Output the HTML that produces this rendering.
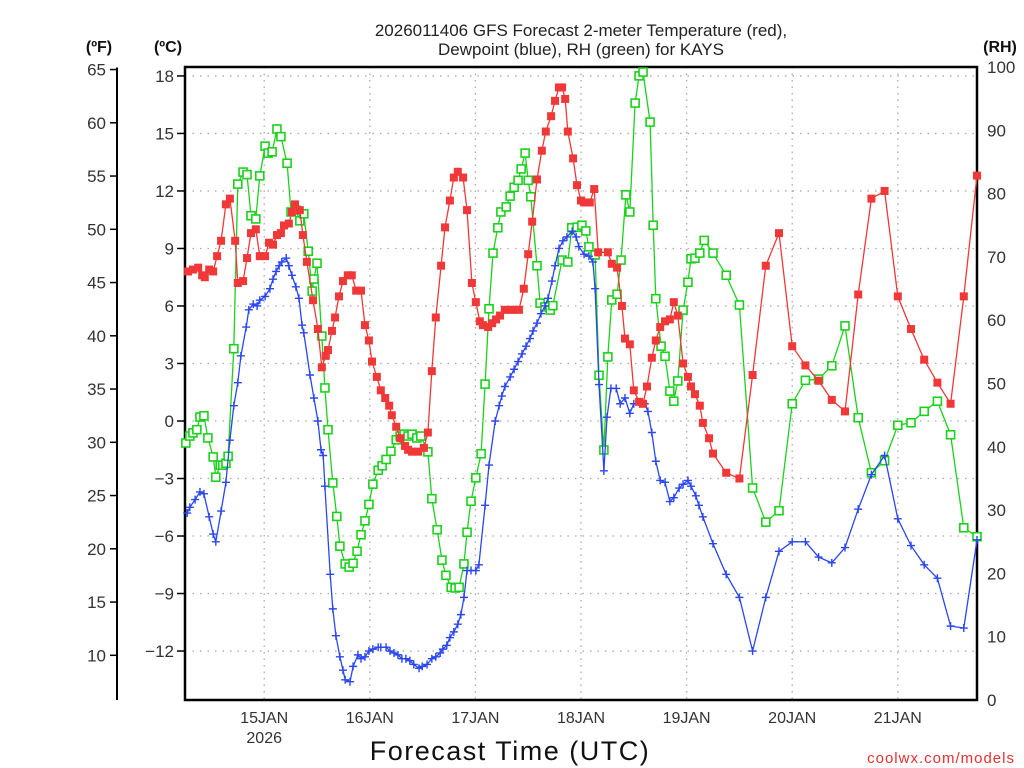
<!DOCTYPE html>
<html><head><meta charset="utf-8">
<style>
html,body{margin:0;padding:0;background:#fff;}
svg{display:block;font-family:"Liberation Sans",sans-serif;}
</style></head>
<body>
<svg id="chart" width="1024" height="768" viewBox="0 0 1024 768">
  <text x="581" y="36" text-anchor="middle" font-size="17" fill="#222">2026011406 GFS Forecast 2-meter Temperature (red),</text>
  <text x="581" y="55" text-anchor="middle" font-size="17" fill="#222">Dewpoint (blue), RH (green) for KAYS</text>
  <text x="99" y="52" text-anchor="middle" font-size="16" font-weight="bold" fill="#111">(ºF)</text>
  <text x="168" y="52" text-anchor="middle" font-size="16" font-weight="bold" fill="#111">(ºC)</text>
  <text x="1000" y="52" text-anchor="middle" font-size="16" font-weight="bold" fill="#111">(RH)</text>
  <text x="510" y="760" text-anchor="middle" font-size="27" fill="#111" letter-spacing="1.5">Forecast Time (UTC)</text>
  <text x="1015" y="763" text-anchor="end" font-size="15" fill="#e83030" letter-spacing="1">coolwx.com/models</text>
  <g id="grid"></g><g id="axes"></g><g id="series"></g>
</svg>
<script>
// ---- data ----
const tHours=[0.7,1.8,3.0,3.9,4.5,5.5,6.4,7.3,8.2,9.3,10.2,11.4,12.0,13.2,14.1,15.0,16.1,17.0,18.2,19.1,20.0,20.9,21.8,22.5,23.6,24.3,25.0,26.1,26.8,27.7,29.1,30.2,31.1,32.0,32.5,33.4,34.1,35.0,35.9,37.0,37.9,38.9,40.0,40.9,41.8,42.5,43.6,44.5,45.5,46.4,47.0,48.0,48.9,50.0,50.7,51.6,53.0,54.3,55.2,56.1,57.0,58.2,59.1,60.2,61.1,62.0,63.2,64.1,65.2,66.1,67.0,67.7,68.9,69.8,70.7,71.6,72.7,73.9,74.8,75.9,77.0,78.0,78.9,80.0,81.1,82.0,83.2,84.1,85.0,85.7,86.4,87.0,88.2,89.1,90.0,90.7,92.0,93.0,93.9,96.1,97.0,98.2,99.3,100.0,101.1,102.0,103.2,104.1,105.0,106.1,107.0,108.0,109.1,110.2,111.1,112.0,113.2,114.3,115.0,115.9,117.0,117.7,119.1,120,123,126,129,132,135,138,141,144,147,150,153,156,159,162,165,168,171,174,177,180];
const tempC=[7.8,7.9,8.0,7.6,7.5,7.9,7.8,8.6,9.4,11.3,11.6,9.4,7.2,7.3,8.5,9.8,10.0,8.6,8.6,9.3,9.2,9.7,9.8,10.2,10.3,10.9,11.3,11.0,9.7,8.3,6.3,4.8,2.8,3.4,3.7,4.7,5.4,6.5,7.3,7.6,7.6,6.8,6.8,5.0,4.2,3.1,2.3,1.6,1.2,0.8,0.3,-0.3,-0.9,-1.3,-1.5,-1.6,-1.6,-1.4,-0.6,2.6,5.4,8.1,10.1,11.5,12.7,13.0,12.7,11.0,7.2,6.2,5.2,5.0,4.9,5.1,5.3,5.5,5.8,5.8,5.8,5.8,6.9,8.7,10.4,12.6,14.1,15.1,15.9,16.7,17.4,17.4,16.8,15.1,13.7,12.3,11.5,11.4,11.4,12.1,8.8,8.8,8.2,8.0,6.0,4.3,4.0,1.6,1.0,0.9,1.8,3.3,4.2,4.9,5.2,5.3,6.2,5.5,3.0,2.3,1.8,1.4,0.8,-0.1,-0.9,-1.7,-2.7,-3.0,2.4,8.1,9.8,3.9,2.9,2.1,1.1,0.5,6.6,11.6,12.0,6.5,4.8,3.2,2.0,0.9,6.5,12.8];
const dHours=[0.5,1.1,2.3,3.4,4.3,5.5,6.4,7.0,8.2,9.3,10.2,11.1,12.0,12.7,13.9,14.5,15.5,16.4,17.0,18.2,19.3,20.0,20.7,21.4,22.0,23.0,23.6,24.3,25.2,25.9,26.6,27.0,28.4,29.3,30.2,30.9,31.4,31.8,33.0,33.6,34.3,35.2,35.9,36.4,37.5,38.2,39.3,40.0,40.9,41.8,42.7,43.9,44.5,45.7,46.6,47.5,48.4,49.3,50.2,51.1,52.0,53.2,53.9,55.0,56.1,57.0,58.0,58.6,59.5,60.2,61.1,62.0,62.7,63.4,64.1,65.0,66.1,66.8,68.2,69.1,70.5,71.4,72.0,72.7,73.9,74.8,75.7,76.6,77.5,78.4,79.1,80.0,80.9,81.8,82.5,83.4,84.1,85.0,85.9,86.8,88.0,88.9,89.5,90.7,91.8,92.7,93.2,94.1,95.2,95.9,96.8,98.0,98.9,100.0,101.1,102.0,103.4,104.5,105.2,106.1,107.0,108.0,109.1,110.2,111.1,112.3,113.2,114.3,115.0,116.1,116.8,117.7,120,123,126,129,132,135,138,141,144,147,150,153,156,159,162,165,168,171,174,177,180];
const dewC=[-4.8,-4.5,-4.1,-3.7,-3.8,-5.0,-5.9,-6.3,-4.7,-3.2,-1.0,0.8,2.0,3.4,4.9,5.8,6.1,6.0,6.3,6.5,6.9,7.4,7.8,8.1,8.3,8.5,8.1,7.6,7.0,6.4,5.0,4.6,2.4,1.2,0.0,-1.5,-1.8,-3.4,-8.0,-9.8,-11.2,-12.3,-13.0,-13.5,-13.6,-12.8,-12.2,-12.4,-12.3,-12.0,-11.9,-11.8,-11.8,-11.8,-12.0,-12.1,-12.2,-12.4,-12.4,-12.5,-12.7,-12.9,-12.8,-12.7,-12.4,-12.3,-12.1,-11.9,-11.7,-11.3,-11.0,-10.6,-10.1,-9.2,-7.8,-7.8,-7.8,-7.5,-4.4,-2.3,0.0,0.8,1.3,1.8,2.3,2.7,3.1,3.5,3.9,4.3,4.7,5.1,5.6,6.0,6.4,7.3,8.1,9.0,9.4,9.6,9.9,9.6,9.1,8.7,8.6,8.3,6.9,1.9,-2.6,0.2,1.7,1.7,0.9,1.2,0.4,0.9,0.9,0.9,0.5,-0.6,-2.1,-3.1,-3.2,-4.2,-4.0,-3.5,-3.3,-3.1,-3.4,-3.9,-4.4,-5.0,-6.4,-8.0,-9.2,-12.0,-9.2,-6.8,-6.3,-6.3,-7.1,-7.4,-6.6,-4.6,-2.8,-1.8,-5.1,-6.5,-7.5,-8.2,-10.7,-10.8,-6.2];
const rHours=[0.2,1.1,1.8,2.7,3.4,4.3,5.2,6.4,7.0,8.0,8.6,9.3,9.8,11.1,12.0,13.2,14.1,15.0,16.1,17.0,18.2,18.9,19.8,20.9,21.8,23.2,24.1,25.2,26.1,27.0,28.0,28.9,29.3,30.0,31.1,31.8,32.5,33.6,34.5,35.2,36.4,37.3,38.2,39.1,40.0,40.9,41.8,42.7,43.9,44.8,45.7,46.8,48.0,48.9,49.8,50.7,51.6,52.7,53.6,55.2,56.1,57.3,58.4,59.3,60.5,61.4,62.3,63.4,64.1,65.0,66.1,67.3,68.2,69.1,70.0,71.1,71.8,73.0,73.9,74.8,75.7,76.4,77.3,78.0,78.6,80.0,80.7,81.8,83.0,83.6,85.7,87.0,87.9,89.1,90.2,91.1,91.8,93.2,94.1,95.2,96.1,97.0,98.2,99.1,100.2,101.1,102.3,103.2,104.1,105.7,106.4,107.0,108.2,109.1,110.2,111.1,112.0,113.2,114.3,115.0,115.9,117.0,118.0,120,123,126,129,132,135,138,141,144,147,150,153,156,159,162,165,168,171,174,177,180];
const rhPct=[40.6,41.7,42.2,42.7,44.7,44.9,41.4,38.4,35.2,37.1,37.1,37.4,38.5,55.5,81.5,83.4,83.0,76.5,76.0,82.8,87.5,86.4,86.6,90.2,89.0,84.8,77.1,77.4,75.7,76.8,70.9,64.6,66.5,69.0,57.5,49.3,42.7,34.3,29.0,24.3,21.5,21.0,21.6,23.5,26.1,28.3,30.9,34.1,36.3,37.0,38.0,39.3,41.1,41.7,42.0,41.7,42.0,41.4,41.7,39.2,31.8,26.9,22.1,19.7,17.8,17.7,17.8,21.5,26.5,31.4,35.1,38.9,49.9,61.8,70.6,74.6,77.1,77.9,79.6,81.0,82.1,83.9,86.4,82.1,79.5,68.6,62.7,62.1,61.6,62.3,69.5,69.2,74.6,74.7,75.0,74.1,71.6,70.3,51.3,39.5,54.2,63.2,64.1,69.5,79.8,77.1,94.3,98.6,99.2,91.3,75.0,63.4,55.9,54.3,48.8,47.2,50.4,61.6,66.0,69.7,69.8,70.6,72.6,70.6,67.1,62.4,33.5,28.1,29.9,46.8,50.5,50.7,52.8,59.1,44.6,35.9,37.8,43.4,43.8,45.6,47.2,41.9,27.2,25.8];
const cTicks=[18,15,12,9,6,3,0,-3,-6,-9,-12];
const fTicks=[65,60,55,50,45,40,35,30,25,20,15,10];
const rhTicks=[100,90,80,70,60,50,40,30,20,10,0];
const dayLabels=["15JAN","16JAN","17JAN","18JAN","19JAN","20JAN","21JAN"];
const dayHours=[18,42,66,90,114,138,162];

// ---- scales ----
const L=185,R=977,T=67,B=700;
const X=h=>L+h*(R-L)/180;
const YC=c=>421-c*19.17;
const YF=f=>YC((f-32)*5/9);
const YR=r=>B-r*(B-T)/100;
const NS="http://www.w3.org/2000/svg";
function mk(tag,attrs,parent){const e=document.createElementNS(NS,tag);for(const k in attrs)e.setAttribute(k,attrs[k]);parent.appendChild(e);return e;}
const grid=document.getElementById('grid'),axes=document.getElementById('axes'),ser=document.getElementById('series');

cTicks.forEach(c=>{
  const y=YC(c);
  const g=mk('line',{x1:L,x2:R,y1:y,y2:y,stroke:'#aaa','stroke-width':1.3,'stroke-dasharray':'1.5 6'},grid);
  
  
  const t=mk('line',{x1:L-8,x2:L,y1:y,y2:y,stroke:'#000','stroke-width':1.5},axes);
  
  
  const l=mk('text',{x:L-11,y:y+6,'text-anchor':'end','font-size':17,fill:'#333'},axes);
  l.textContent=(c<0?'\u2212'+(-c):c);
  
  
});
dayHours.forEach((h,i)=>{
  const x=X(h);
  const g=mk('line',{x1:x,x2:x,y1:T,y2:B,stroke:'#aaa','stroke-width':1.3,'stroke-dasharray':'1.5 5'},grid);
  
  
  const l=mk('text',{x:x,y:723,'text-anchor':'middle','font-size':16,fill:'#333'},axes);
  l.textContent=dayLabels[i];
  
  
});
const yr=mk('text',{x:X(dayHours[0]),y:743,'text-anchor':'middle','font-size':16,fill:'#333'},axes);
yr.textContent='2026';



const fa=mk('line',{x1:117,x2:117,y1:YF(65)-2,y2:B,stroke:'#000','stroke-width':2},axes);


fTicks.forEach(f=>{
  const y=YF(f);
  const t=mk('line',{x1:110,x2:117,y1:y,y2:y,stroke:'#000','stroke-width':1.5},axes);
  
  
  const l=mk('text',{x:106,y:y+6,'text-anchor':'end','font-size':17,fill:'#333'},axes);
  l.textContent=f;
  
  
});
rhTicks.forEach(r=>{
  const y=YR(r);
  const l=mk('text',{x:987,y:y+6,'text-anchor':'start','font-size':17,fill:'#333'},axes);
  l.textContent=r;
  
  
});
const frame=mk('rect',{x:L,y:T,width:R-L,height:B-T,fill:'none',stroke:'#000','stroke-width':2.5},axes);



function poly(hs,vs,yf,color,name){
  const pts=hs.map((h,i)=>X(h).toFixed(1)+','+yf(vs[i]).toFixed(1)).join(' ');
  const p=mk('polyline',{points:pts,fill:'none',stroke:color,'stroke-width':1.3},ser);
  
  
}
// RH
poly(rHours,rhPct,YR,'#1bd21b','rh-line');
rHours.forEach((h,i)=>{
  const m=mk('rect',{x:X(h)-4,y:YR(rhPct[i])-4,width:8,height:8,fill:'#fff',stroke:'#1bd21b','stroke-width':1.6},ser);
  
  
});
// Dewpoint
poly(dHours,dewC,YC,'#2a46f0','dewpoint-line');
dHours.forEach((h,i)=>{
  const x=X(h),y=YC(dewC[i]);
  const m=mk('path',{d:`M${x-4},${y}H${x+4}M${x},${y-4}V${y+4}`,stroke:'#2a46f0','stroke-width':1.4},ser);
  
  
});
// Temperature
poly(tHours,tempC,YC,'#f03838','temperature-line');
tHours.forEach((h,i)=>{
  const m=mk('rect',{x:X(h)-4,y:YC(tempC[i])-4,width:8,height:8,fill:'#f03838'},ser);
  
  
});
</script>
</body></html>
